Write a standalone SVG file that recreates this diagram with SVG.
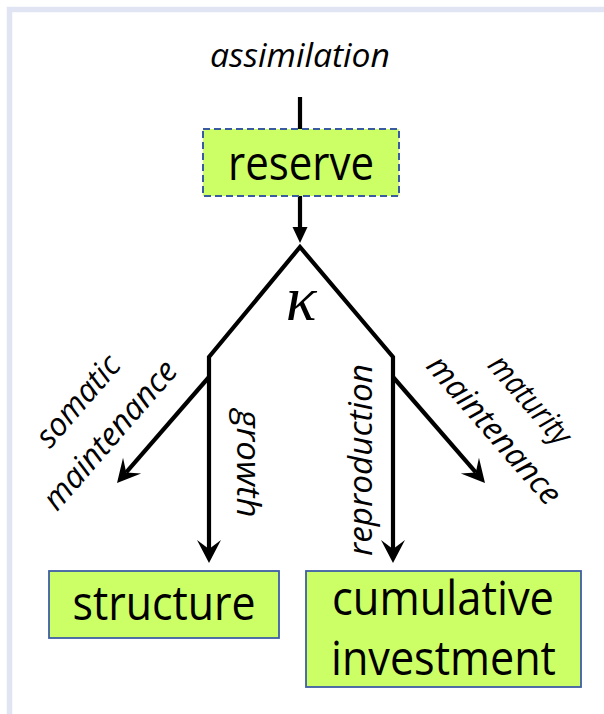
<svg xmlns="http://www.w3.org/2000/svg" width="604" height="714" viewBox="0 0 604 714">
<style>
.box{fill:#ccff66;stroke:#3f5ea6;stroke-width:1.8}
.dash{stroke:#3a5ba0;stroke-width:2;stroke-dasharray:7 4}
.lbl{font-family:"Open Sans","Liberation Sans",sans-serif;font-size:47px;fill:#000;text-anchor:middle}
.it{font-family:"Open Sans","Liberation Sans",sans-serif;font-style:italic;font-size:32px;fill:#000;text-anchor:middle}
.ln{fill:none;stroke:#000;stroke-width:4.2;stroke-linejoin:miter;stroke-miterlimit:10}
</style>
<defs>
<marker id="stealth" markerUnits="userSpaceOnUse" viewBox="-10 -13 26 26" markerWidth="26" markerHeight="26" refX="0" refY="0" orient="auto-start-reverse" overflow="visible">
<path d="M14 0 L-9 -12 L0 0 L-9 12 Z" fill="#000"/>
</marker>
<marker id="tri" markerUnits="userSpaceOnUse" viewBox="-4 -9 20 18" markerWidth="20" markerHeight="18" refX="0" refY="0" orient="auto" overflow="visible">
<path d="M14 0 L-2 -7.5 L-2 7.5 Z" fill="#000"/>
</marker>
</defs>
<rect x="9.5" y="9.5" width="700" height="800" fill="none" stroke="#e1e5f3" stroke-width="5.5"/>
<g id="connectors">
<line class="ln" x1="300" y1="97" x2="300" y2="129"/>
<line class="ln" x1="300" y1="196" x2="300" y2="229" marker-end="url(#tri)"/>
<path class="ln" d="M209 549 L209 357 L300 247 L393 357 L393 549" marker-start="url(#stealth)" marker-end="url(#stealth)"/>
<line class="ln" x1="209" y1="377" x2="126.2" y2="472.4" marker-end="url(#stealth)"/>
<line class="ln" x1="393" y1="377" x2="475.8" y2="472.4" marker-end="url(#stealth)"/>
<text x="300" y="66.7" class="it" textLength="180" lengthAdjust="spacingAndGlyphs">assimilation</text>
<text x="301" y="320" font-family="Liberation Serif, serif" font-style="italic" font-size="64" text-anchor="middle">κ</text>
<text class="it" transform="translate(86,408) rotate(-49)" textLength="110" lengthAdjust="spacingAndGlyphs">somatic</text>
<text class="it" transform="translate(118,442) rotate(-49)" textLength="186" lengthAdjust="spacingAndGlyphs">maintenance</text>
<text class="it" transform="translate(237,463.5) rotate(90)" textLength="108" lengthAdjust="spacingAndGlyphs">growth</text>
<text class="it" transform="translate(372,460) rotate(-90)" textLength="192" lengthAdjust="spacingAndGlyphs">reproduction</text>
<text class="it" transform="translate(522,407) rotate(49)" textLength="108" lengthAdjust="spacingAndGlyphs">maturity</text>
<text class="it" transform="translate(486,437) rotate(49)" textLength="186" lengthAdjust="spacingAndGlyphs">maintenance</text>
</g>
<g id="reserve">
<rect class="box dash" x="203" y="129" width="196" height="67"/>
<text class="lbl" x="301" y="180" textLength="146" lengthAdjust="spacingAndGlyphs">reserve</text>
</g>
<g id="structure">
<rect class="box" x="49" y="571" width="230" height="67"/>
<text class="lbl" x="164" y="620" textLength="183" lengthAdjust="spacingAndGlyphs">structure</text>
</g>
<g id="cumulative">
<rect class="box" x="306" y="571" width="275" height="116"/>
<text class="lbl" x="443" y="615" textLength="222" lengthAdjust="spacingAndGlyphs">cumulative</text>
<text class="lbl" x="443.5" y="675" textLength="225" lengthAdjust="spacingAndGlyphs">investment</text>
</g>
</svg>
